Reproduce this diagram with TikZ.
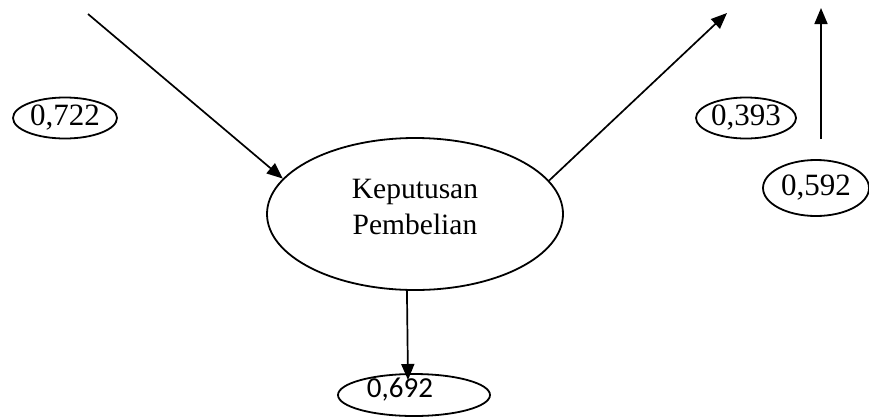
\documentclass[tikz,border=0pt]{standalone}
\usepackage{fontspec}
\setmainfont{Liberation Serif}
\newfontfamily\calib{Carlito}
\usetikzlibrary{shapes.geometric,arrows.meta}
\begin{document}
\begin{tikzpicture}[x=1pt,y=-1pt,
  ln/.style={line width=1.7pt},
  arr/.style={ln,-{Triangle[length=16pt,width=13pt]}},
  oval/.style={ellipse,draw,line width=1.8pt,inner sep=0pt},
  numtxt/.style={inner sep=0pt,font=\fontsize{31}{36}\selectfont},
  maintxt/.style={inner sep=0pt,align=center,font=\fontsize{29.5}{36}\selectfont}
]
\useasboundingbox (0,0) rectangle (869,418);
% main ellipse
\node[oval,minimum width=296pt,minimum height=152pt] (kp) at (415,214) {};
\node[maintxt] (kpt) at (415,207) {Keputusan\\Pembelian};
% small ellipses
\node[oval,minimum width=104pt,minimum height=41pt,numtxt] (e1) at (65,118) {0,722};
\node[oval,minimum width=100pt,minimum height=41pt,numtxt] (e2) at (746,118) {0,393};
\node[oval,minimum width=106pt,minimum height=56pt,numtxt] (e3) at (816,188) {0,592};
\node[oval,minimum width=152pt,minimum height=42pt] (e4) at (414,395) {};
\node[inner sep=0pt,font=\calib\fontsize{29}{34}\selectfont] (e4t) at (400,390) {0,692};
% free ends
\coordinate (a1) at (88,14);
\coordinate (a2) at (727,13);
\coordinate (a3s) at (821,139);
\coordinate (a3e) at (821,8);
\coordinate (a4) at (408,380);
% connectors
\draw[arr] (a1) -- (kp.165);
\draw[arr] (kp.14) -- (a2);
\draw[arr] (a3s) -- (a3e);
\draw[arr] (kp.-96) -- (a4);
\end{tikzpicture}
\end{document}
